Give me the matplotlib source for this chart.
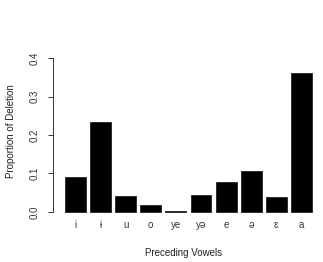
import matplotlib
matplotlib.use("Agg")
import matplotlib.pyplot as plt

vowels = ["i", "ɨ", "u", "o", "ye", "yə", "e", "ə", "ɛ", "a"]
deletion = [0.091, 0.234, 0.042, 0.018, 0.003, 0.043, 0.078, 0.106, 0.038, 0.361]
yticks = [0.0, 0.1, 0.2, 0.3, 0.4]

plt.rcParams["font.family"] = ["Liberation Sans", "DejaVu Sans"]
plt.rcParams["font.size"] = 7

W, H = 323, 262
fig = plt.figure(figsize=(W / 100, H / 100), dpi=100)
# plot region in pixels: left 53, right 322, top 52, bottom 218
ax = fig.add_axes([53 / W, 1 - 218 / H, (322 - 53) / W, (218 - 52) / H])

centers = [0.7 + 1.2 * i for i in range(len(vowels))]
ax.bar(centers, deletion, width=1.0, color="black", edgecolor="#222222", linewidth=0.6)

ax.set_xlim(-0.373, 12.48)
ax.set_ylim(-0.016, 0.416)

for s in ["top", "right", "bottom"]:
    ax.spines[s].set_visible(False)
ax.spines["left"].set_bounds(0, 0.4)
ax.spines["left"].set_linewidth(0.7)
ax.spines["left"].set_color("#333333")

ax.set_yticks(yticks)
ax.set_yticklabels([f"{t:.1f}" for t in yticks], rotation=90, va="center")
ax.tick_params(axis="y", length=3.5, width=0.7, color="#333333", pad=6, labelcolor="#333333")

ax.set_xticks(centers)
ax.set_xticklabels(vowels)
ax.tick_params(axis="x", length=0, pad=1.5, labelcolor="#333333")

ax.set_xlabel("Preceding Vowels", color="#222222")
ax.xaxis.set_label_coords((184 - 53) / (322 - 53), -(253 - 218) / (218 - 52))
ax.set_ylabel("Proportion of Deletion", color="#222222")
ax.yaxis.set_label_coords((11 - 53) / (322 - 53), (218 - 131) / (218 - 52))
ax.xaxis.label.set_va("center")
ax.yaxis.label.set_va("center")

fig.savefig("out.png", dpi=100)
